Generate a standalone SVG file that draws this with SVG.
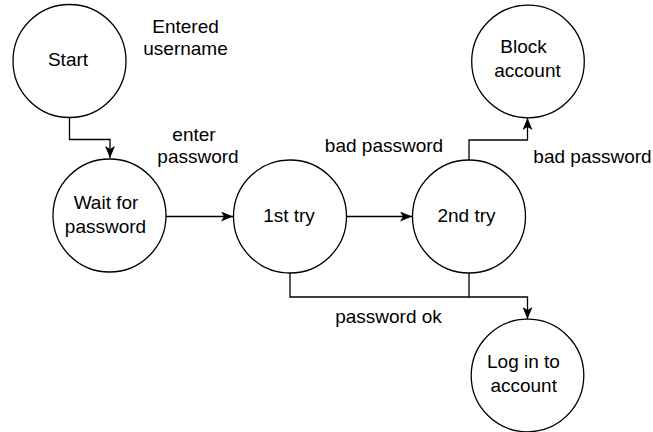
<svg xmlns="http://www.w3.org/2000/svg" width="653" height="432" viewBox="0 0 653 432">
<style>
.node circle{fill:#fff;stroke:#000;stroke-width:1.3}
text{font-family:"Liberation Sans",Arial,Helvetica,sans-serif;font-size:19px;fill:#000;text-anchor:middle}
.edge{fill:none;stroke:#000;stroke-width:1.3}
</style>
<defs>
<marker id="arr" markerUnits="userSpaceOnUse" markerWidth="12" markerHeight="10" viewBox="0 0 12 10" refX="12" refY="5" orient="auto">
<path d="M0,0 L12,5 L0,10 L3,5 z" fill="#000"/>
</marker>
</defs>
<g id="connectors">
<path class="edge" d="M69.5 117.5 V139.5 H110 V158" marker-end="url(#arr)"/>
<path class="edge" d="M166 216.5 H233" marker-end="url(#arr)"/>
<path class="edge" d="M346.5 216.5 H412" marker-end="url(#arr)"/>
<path class="edge" d="M469 160 V140 H527.5 V118" marker-end="url(#arr)"/>
<path class="edge" d="M290 273 V297 H527.5 V319" marker-end="url(#arr)"/>
<path class="edge" d="M469 273 V297"/>
<text x="185.5" y="33">Entered</text>
<text x="185.5" y="55">username</text>
<text x="194" y="141">enter</text>
<text x="198" y="163">password</text>
<text x="384" y="152">bad password</text>
<text x="592.5" y="163">bad password</text>
<text x="388.5" y="323">password ok</text>
</g>
<g id="start" class="node"><circle cx="69.5" cy="61" r="56.5"/><text x="68" y="65.5">Start</text></g>
<g id="wait" class="node"><circle cx="109.5" cy="215.5" r="56.5"/><text x="106" y="208.5">Wait for</text><text x="105.5" y="233">password</text></g>
<g id="try1" class="node"><circle cx="290" cy="216.5" r="56.5"/><text x="289" y="222">1st try</text></g>
<g id="try2" class="node"><circle cx="469" cy="216.5" r="56.5"/><text x="466.5" y="222">2nd try</text></g>
<g id="block" class="node"><circle cx="528" cy="61.5" r="56.3"/><text x="523.5" y="53">Block</text><text x="527.5" y="77">account</text></g>
<g id="login" class="node"><circle cx="527.5" cy="375.5" r="56.3"/><text x="523.5" y="368">Log in to</text><text x="523.7" y="392">account</text></g>
</svg>
